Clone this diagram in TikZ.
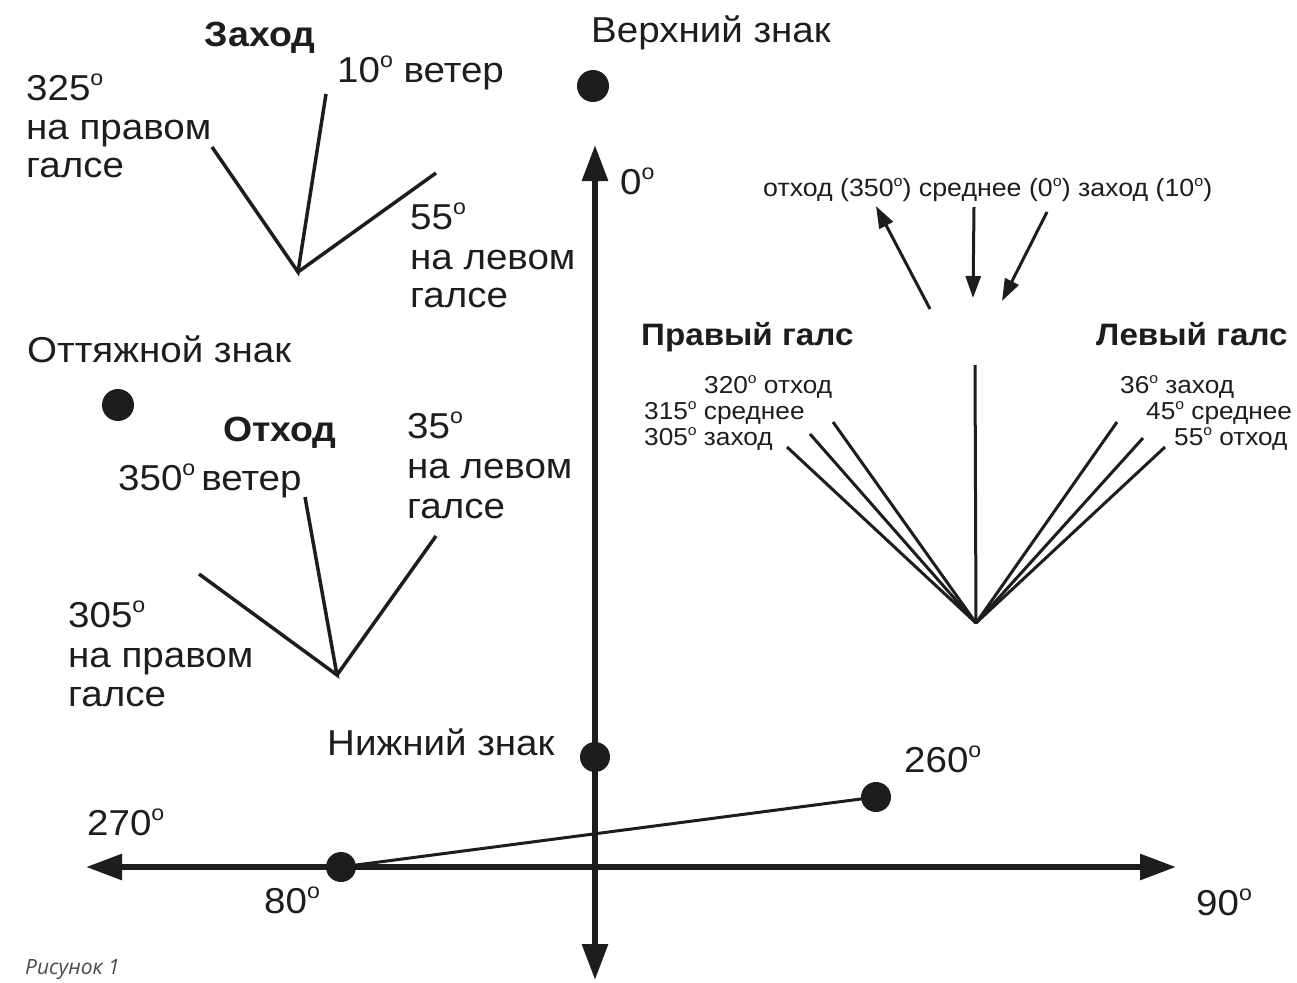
\documentclass[tikz,border=0pt]{standalone}
\usepackage{fontspec}
\setmainfont{Liberation Sans}[FakeStretch=1.07]
\newfontfamily\capfont{Open Sans}
\usetikzlibrary{arrows.meta}
\definecolor{ink}{HTML}{1D1D1B}
\definecolor{capgray}{HTML}{4A4A4A}
\newcommand\degsym{\raisebox{0.4em}{\scalebox{0.6}{o}}}
\begin{document}
\begin{tikzpicture}[x=1pt,y=-1pt,
  lbl/.style={font=\fontsize{36}{39}\selectfont, text=ink, inner sep=0pt, anchor=base west},
  lblb/.style={lbl, font=\fontsize{35}{39}\selectfont\bfseries},
  sm/.style={font=\fontsize{25}{23}\selectfont, text=ink, inner sep=0pt, anchor=base west},
  fanlbl/.style={sm, font=\fontsize{24.5}{23}\selectfont},
  smb/.style={sm, font=\fontsize{31}{30}\selectfont\bfseries},
  dot/.style={circle, fill=ink, inner sep=0pt, minimum size=#1},
  dot/.default=31pt,
  axis/.style={line width=6pt, draw=ink, {Triangle[length=36pt,width=25pt]}-{Triangle[length=36pt,width=25pt]}},
  ray/.style={line width=3.5pt, draw=ink},
  warrow/.style={line width=3pt, draw=ink, -{Triangle[length=22pt,width=15pt]}},
  captext/.style={font=\capfont\itshape\fontsize{21}{22}\selectfont, text=capgray, inner sep=0pt, anchor=base west}
]
\useasboundingbox (0,0) rectangle (1297,982);

% axes
\coordinate (vtop) at (595,145);
\coordinate (vbot) at (595,980);
\coordinate (hl) at (86,867);
\coordinate (hr) at (1176,867);
\draw[axis] (vbot) -- (vtop);
\draw[axis] (hl) -- (hr);

% marks
\node[dot=32pt] (upper) at (593,86) {};
\node[dot=32pt] (offset) at (118,405) {};
\node[dot=30pt] (lower) at (595,757) {};
\node[dot=30pt] (m260) at (876,797) {};
\node[dot=30pt] (m80) at (341,867) {};
\draw[line width=3pt, draw=ink] (m80.center) -- (m260.center);

% labels of marks and axes
\node[lbl] (tUpper) at (591,43) {Верхний знак};
\node[lbl] (tOffset) at (27,362) {Оттяжной знак};
\node[lbl] (tLower) at (327,755) {Нижний знак};
\node[lbl] (t260) at (904,772) {260\degsym};
\node[lbl] (t270) at (87,835) {270\degsym};
\node[lbl] (t80) at (264,913) {80\degsym};
\node[lbl] (t90) at (1196,915) {90\degsym};
\node[lbl] (t0) at (620,194) {0\degsym};

% Заход group
\node[lblb, anchor=base] (zTitle) at (260,46) {Заход};
\node[lbl] (zWind) at (337,82) {10\degsym{} ветер};
\node[lbl] (zR1) at (26,100) {325\degsym};
\node[lbl] (zR2) at (26,139) {на правом};
\node[lbl] (zR3) at (26,177) {галсе};
\node[lbl] (zL1) at (410,229) {55\degsym};
\node[lbl] (zL2) at (410,269) {на левом};
\node[lbl] (zL3) at (410,307) {галсе};
\coordinate (zO) at (298,272);
\coordinate (zA) at (212,147);
\coordinate (zB) at (326,94);
\coordinate (zC) at (436,173);
\draw[ray, line cap=butt] (zA) -- (zO) -- (zB);
\draw[ray] (zO) -- (zC);

% Отход group
\node[lblb] (oTitle) at (223,441) {Отход};
\node[lbl] (oWind) at (118,490) {350\degsym\,ветер};
\node[lbl] (oL1) at (407,438) {35\degsym};
\node[lbl] (oL2) at (407,478) {на левом};
\node[lbl] (oL3) at (407,518) {галсе};
\node[lbl] (oR1) at (68,627) {305\degsym};
\node[lbl] (oR2) at (68,667) {на правом};
\node[lbl] (oR3) at (68,706) {галсе};
\coordinate (oO) at (337,675);
\coordinate (oA) at (199,574);
\coordinate (oB) at (305,497);
\coordinate (oC) at (436,536);
\draw[ray] (oA) -- (oO) -- (oB);
\draw[ray] (oO) -- (oC);

% wind arrows
\node[sm] (wText) at (763,196) {отход (350\degsym) среднее (0\degsym) заход (10\degsym)};
\coordinate (w1s) at (930,309);
\coordinate (w1e) at (876,206);
\coordinate (w2s) at (974,207);
\coordinate (w2e) at (973,298);
\coordinate (w3s) at (1047,212);
\coordinate (w3e) at (1002,301);
\draw[warrow] (w1s) -- (w1e);
\draw[warrow] (w2s) -- (w2e);
\draw[warrow] (w3s) -- (w3e);

% tacks
\node[smb] (rTack) at (641,345) {Правый галс};
\node[smb] (lTack) at (1096,345) {Левый галс};
\node[fanlbl] (r1) at (704,393) {320\degsym{} отход};
\node[fanlbl] (r2) at (644,419) {315\degsym{} среднее};
\node[fanlbl] (r3) at (644,445) {305\degsym{} заход};
\node[fanlbl] (l1) at (1120,393) {36\degsym{} заход};
\node[fanlbl] (l2) at (1146,419) {45\degsym{} среднее};
\node[fanlbl] (l3) at (1174,445) {55\degsym{} отход};
\coordinate (fO) at (976,623);
\coordinate (fV) at (975,365);
\coordinate (fa) at (787,447);
\coordinate (fb) at (810,434);
\coordinate (fc) at (833,422);
\coordinate (fd) at (1117,422);
\coordinate (fe) at (1143,438);
\coordinate (ff) at (1165,447);
\draw[line width=3pt, draw=ink] (fV) -- (fO);
\foreach \p in {fa,fb,fc,fd,fe,ff} \draw[line width=3pt, draw=ink] (fO) -- (\p);

\node[captext] (caption) at (25,974) {Рисунок 1};
\end{tikzpicture}
\end{document}
